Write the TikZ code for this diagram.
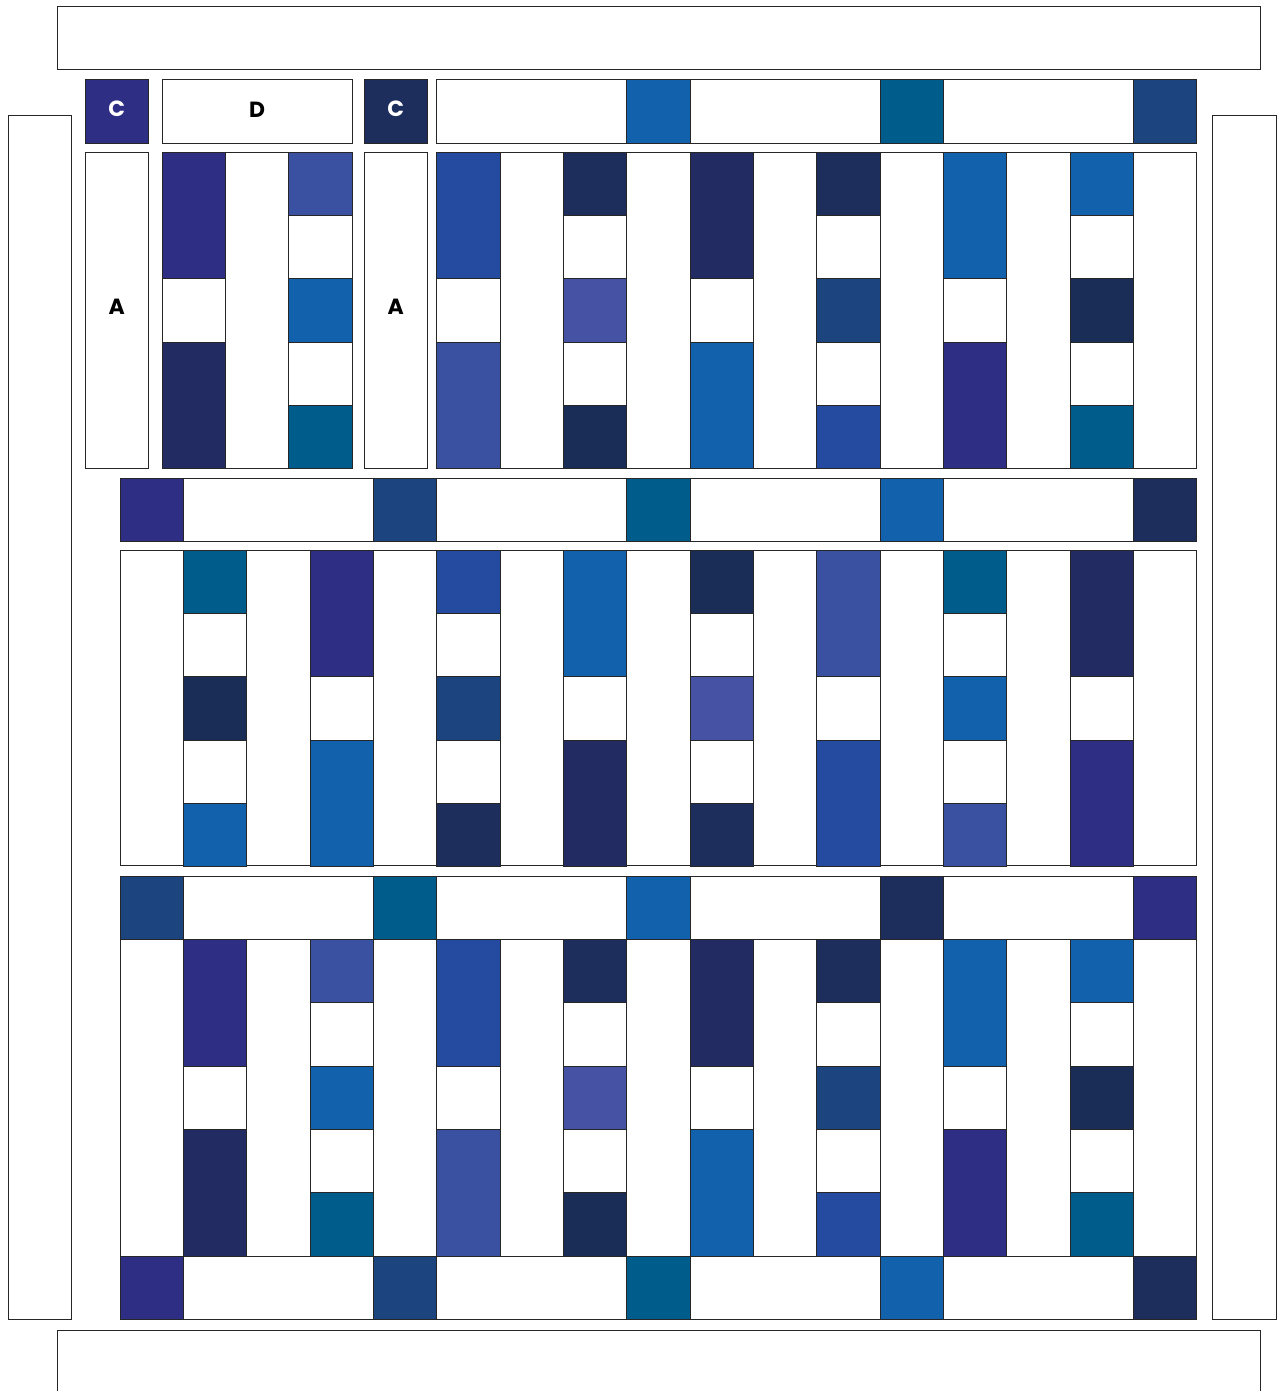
\documentclass[tikz,border=0pt]{standalone}
\usepackage{fontspec}
\setmainfont{Poppins}
\usetikzlibrary{positioning}
\definecolor{pur}{RGB}{45,46,132}
\definecolor{nav}{RGB}{34,44,99}
\definecolor{nvy}{RGB}{29,46,92}
\definecolor{dk}{RGB}{26,45,86}
\definecolor{roy}{RGB}{36,75,160}
\definecolor{per}{RGB}{58,81,162}
\definecolor{lav}{RGB}{70,82,164}
\definecolor{brt}{RGB}{17,97,173}
\definecolor{tea}{RGB}{0,92,138}
\definecolor{den}{RGB}{28,69,128}
\tikzset{
  piece/.style={draw=black!85, line width=0.55pt},
  tag/.style={font=\fontsize{12.5}{15}\selectfont\bfseries, inner sep=0pt}
}
% one column of a block: colour/start/length
\newcommand\quiltcol[3]{%
  \edef\cells{#3}%
  \foreach \fabric/\from/\len in \cells{
    \draw[piece, fill=\fabric] (#1,#2+\from) rectangle ++(1,\len);}}
% sashing strip with its corner squares
\newcommand\quiltstrip[4]{%
  \draw[piece, fill=white] (#1,#2) rectangle ++(#3,1);
  \foreach \fabric/\from in {#4}{
    \draw[piece, fill=\fabric] (#1+\from,#2) rectangle ++(1,1);}}
% column patterns
\def\pA{pur/0/2,white/2/1,nav/3/2}
\def\pB{per/0/1,white/1/1,brt/2/1,white/3/1,tea/4/1}
\def\pC{roy/0/2,white/2/1,per/3/2}
\def\pD{nvy/0/1,white/1/1,lav/2/1,white/3/1,dk/4/1}
\def\pE{nav/0/2,white/2/1,brt/3/2}
\def\pF{nvy/0/1,white/1/1,den/2/1,white/3/1,roy/4/1}
\def\pG{brt/0/2,white/2/1,pur/3/2}
\def\pH{brt/0/1,white/1/1,dk/2/1,white/3/1,tea/4/1}
\def\qA{tea/0/1,white/1/1,dk/2/1,white/3/1,brt/4/1}
\def\qB{pur/0/2,white/2/1,brt/3/2}
\def\qC{roy/0/1,white/1/1,den/2/1,white/3/1,nvy/4/1}
\def\qD{brt/0/2,white/2/1,nav/3/2}
\def\qE{dk/0/1,white/1/1,lav/2/1,white/3/1,nvy/4/1}
\def\qF{per/0/2,white/2/1,roy/3/2}
\def\qG{tea/0/1,white/1/1,brt/2/1,white/3/1,per/4/1}
\def\qH{nav/0/2,white/2/1,pur/3/2}
\begin{document}
\begin{tikzpicture}[x=1.267cm, y=-1.267cm]
  \useasboundingbox (-1.8943,-2.3994) rectangle (18.311,19.558);
  \clip (-1.8943,-2.3994) rectangle (18.311,19.558);

  % borders
  \draw[piece, fill=white] (-0.9945,-2.29) rectangle (17.995,-1.31);
  \draw[piece, fill=white] (-1.768,-0.584) rectangle (-0.7735,18.43);
  \draw[piece, fill=white] (17.25,-0.584) rectangle (18.25,18.43);
  \draw[piece, fill=white] (-0.9945,18.61) rectangle (17.995,20.5);

  % exploded top row
  \draw[piece, fill=pur] (-0.5525,-1.137) rectangle ++(1,1);
  \node[tag, text=white] (c1) at (-0.0525,-0.69) {C};
  \draw[piece, fill=white] (0.663,-1.137) rectangle ++(3,1);
  \node[tag] (d1) at (2.163,-0.67) {D};
  \draw[piece, fill=nvy] (3.852,-1.137) rectangle ++(1,1);
  \node[tag, text=white] (c2) at (4.352,-0.69) {C};
  \quiltstrip{5}{-1.137}{12}{brt/3, tea/7, den/11}

  \draw[piece, fill=white] (-0.5525,0) rectangle ++(1,5);
  \node[tag] (a1) at (-0.0525,2.44) {A};
  \draw[piece, fill=white] (0.663,0) rectangle ++(3,5);
  \quiltcol{0.663}{0}{\pA}
  \quiltcol{2.663}{0}{\pB}
  \draw[piece, fill=white] (3.852,0) rectangle ++(1,5);
  \node[tag] (a2) at (4.352,2.44) {A};
  \draw[piece, fill=white] (5,0) rectangle ++(12,5);
  \quiltcol{5}{0}{\pC}
  \quiltcol{7}{0}{\pD}
  \quiltcol{9}{0}{\pE}
  \quiltcol{11}{0}{\pF}
  \quiltcol{13}{0}{\pG}
  \quiltcol{15}{0}{\pH}

  % middle row
  \quiltstrip{0}{5.146}{17}{pur/0, den/4, tea/8, brt/12, nvy/16}
  \draw[piece, fill=white] (0,6.283) rectangle (17,11.27);
  \foreach \pat [count=\k] in {qA,qB,qC,qD,qE,qF,qG,qH}{
    \quiltcol{2*\k-1}{6.283}{\csname\pat\endcsname}}

  % bottom row
  \quiltstrip{0}{11.43}{17}{den/0, tea/4, brt/8, nvy/12, pur/16}
  \draw[piece, fill=white] (0,12.43) rectangle (17,17.43);
  \foreach \pat [count=\k] in {pA,pB,pC,pD,pE,pF,pG,pH}{
    \quiltcol{2*\k-1}{12.43}{\csname\pat\endcsname}}
  \quiltstrip{0}{17.43}{17}{pur/0, den/4, tea/8, brt/12, nvy/16}
\end{tikzpicture}
\end{document}
